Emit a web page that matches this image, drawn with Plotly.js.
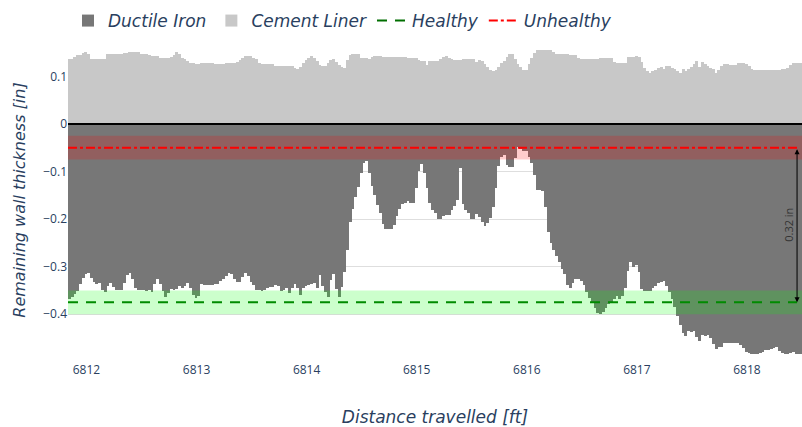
<!DOCTYPE html>
<html><head><meta charset="utf-8">
<script src="https://cdn.plot.ly/plotly-3.0.1.min.js"></script>
<style>html,body{margin:0;padding:0;background:#fff;}#chart{width:802px;height:427px;}</style>
</head><body><div id="chart"></div>
<script>
const startDistance = 6811.845;
const stepDistance = 0.025;

const ductileIron = [
-0.368,-0.364,-0.358,-0.352,-0.336,-0.324,-0.315,-0.314,-0.324,-0.332,
-0.337,-0.334,-0.349,-0.353,-0.340,-0.334,-0.343,-0.349,-0.350,-0.350,
-0.334,-0.318,-0.313,-0.326,-0.345,-0.350,-0.350,-0.350,-0.352,-0.350,
-0.353,-0.336,-0.327,-0.337,-0.352,-0.364,-0.355,-0.347,-0.350,-0.348,
-0.341,-0.346,-0.340,-0.335,-0.346,-0.360,-0.367,-0.362,-0.336,-0.338,
-0.339,-0.339,-0.339,-0.337,-0.336,-0.330,-0.327,-0.319,-0.313,-0.315,
-0.325,-0.332,-0.332,-0.321,-0.314,-0.320,-0.333,-0.339,-0.349,-0.350,
-0.352,-0.350,-0.346,-0.343,-0.342,-0.338,-0.341,-0.351,-0.350,-0.346,
-0.356,-0.344,-0.336,-0.345,-0.360,-0.344,-0.340,-0.339,-0.336,-0.334,
-0.345,-0.318,-0.341,-0.353,-0.364,-0.328,-0.316,-0.348,-0.364,-0.342,
-0.311,-0.265,-0.206,-0.178,-0.153,-0.133,-0.104,-0.083,-0.079,-0.104,
-0.131,-0.150,-0.171,-0.188,-0.211,-0.221,-0.221,-0.221,-0.213,-0.194,
-0.178,-0.168,-0.166,-0.163,-0.166,-0.166,-0.135,-0.098,-0.085,-0.104,
-0.135,-0.167,-0.181,-0.188,-0.199,-0.199,-0.194,-0.192,-0.192,-0.182,
-0.173,-0.160,-0.092,-0.168,-0.181,-0.188,-0.199,-0.199,-0.189,-0.196,
-0.206,-0.214,-0.209,-0.197,-0.174,-0.135,-0.088,-0.069,-0.065,-0.086,
-0.090,-0.090,-0.072,-0.048,-0.053,-0.056,-0.058,-0.069,-0.083,-0.107,
-0.140,-0.140,-0.141,-0.174,-0.227,-0.251,-0.265,-0.277,-0.290,-0.304,
-0.316,
-0.338,-0.345,-0.335,-0.327,-0.327,-0.330,-0.338,-0.353,-0.365,-0.374,
-0.386,-0.397,-0.400,-0.396,-0.388,-0.379,-0.374,-0.368,-0.361,-0.369,
-0.362,-0.344,-0.309,-0.290,-0.300,-0.297,-0.311,-0.347,-0.351,-0.351,
-0.352,-0.344,-0.340,-0.335,-0.332,-0.330,-0.341,-0.354,-0.368,-0.385,
-0.404,-0.423,-0.440,-0.446,-0.436,-0.437,-0.436,-0.449,-0.457,-0.444,
-0.446,-0.443,-0.451,-0.462,-0.473,-0.470,-0.469,-0.461,-0.460,-0.460,
-0.460,-0.460,-0.461,-0.464,-0.472,-0.479,-0.482,-0.483,-0.484,-0.483,
-0.481,-0.479,-0.476,-0.475,-0.474,-0.472,-0.469,-0.478,-0.482,-0.483,
-0.483,-0.482,-0.479,-0.483,-0.484,-0.484
];

const cementLiner = [
0.136,0.136,0.140,0.145,0.145,0.148,0.152,0.146,0.137,0.136,
0.136,0.136,0.136,0.136,0.147,0.147,0.147,0.147,0.147,0.147,
0.148,0.150,0.151,0.152,0.152,0.151,0.147,0.147,0.146,0.145,
0.143,0.143,0.143,0.139,0.138,0.138,0.138,0.141,0.145,0.152,
0.147,0.139,0.136,0.133,0.129,0.127,0.126,0.126,0.129,0.129,
0.129,0.129,0.129,0.126,0.126,0.126,0.126,0.127,0.129,0.129,
0.129,0.131,0.135,0.139,0.142,0.142,0.142,0.139,0.136,0.128,
0.126,0.126,0.126,0.126,0.125,0.122,0.122,0.122,0.122,0.122,
0.122,0.121,0.117,0.116,0.119,0.128,0.134,0.139,0.143,0.139,
0.133,0.124,0.121,0.121,0.127,0.134,0.136,0.131,0.124,0.119,
0.117,0.135,0.145,0.147,0.147,0.146,
0.138,0.138,0.138,0.136,0.140,0.142,0.142,0.142,0.141,0.140,
0.140,0.140,0.140,0.140,0.140,0.140,0.140,0.139,0.139,0.139,
0.138,0.135,0.133,0.132,0.124,0.133,0.133,0.133,0.133,0.137,
0.140,0.143,0.139,0.136,0.135,0.135,0.135,0.136,0.136,0.136,
0.136,0.137,0.131,0.135,0.133,0.126,0.119,0.114,0.112,0.113,
0.119,0.127,0.133,0.141,0.147,0.146,0.136,0.126,0.119,0.113,
0.114,0.126,0.138,0.150,0.155,0.156,0.156,0.156,0.155,0.156,
0.152,0.147,0.147,0.147,0.147,0.146,0.145,0.145,0.145,0.138,
0.136,0.136,0.136,0.136,0.136,0.136,0.136,
0.138,0.138,0.139,0.138,0.138,0.131,0.129,0.129,0.129,0.129,
0.140,0.141,0.140,0.142,0.141,0.131,0.118,0.112,0.107,0.111,
0.114,0.118,0.119,0.115,0.121,0.121,0.118,0.116,0.112,0.107,
0.115,0.111,0.115,0.120,0.125,0.133,0.119,0.130,0.125,0.122,
0.117,0.115,0.107,0.114,0.121,0.126,0.125,0.124,0.124,0.124,
0.128,0.129,0.129,0.125,0.121,0.116,0.114,0.114,0.114,0.114,
0.114,0.114,0.114,0.114,0.114,0.114,0.115,0.115,0.117,0.124,
0.128,0.128,0.128,0.128
];

const healthyLevel = -0.375;
const unhealthyLevel = -0.05;
const bandHalfWidth = 0.025;
const xTickValues = [6812, 6813, 6814, 6815, 6816, 6817, 6818];
const measureDistance = 6818.455;
const measureLabel = '0.32 in';

const distance = ductileIron.map((_, i) => +(startDistance + i * stepDistance).toFixed(4));
const xStart = distance[0] - stepDistance / 2;
const xEnd = 6818.5;

const textFont = '"DejaVu Sans", "Noto Sans", sans-serif';
const inkColor = '#2a3f5f';

const traces = [
  { type: 'bar', name: 'Ductile Iron', x: distance, y: ductileIron, width: stepDistance * 1.04,
    marker: { color: 'rgb(119,119,119)', line: { width: 0 } }, hoverinfo: 'x+y' },
  { type: 'bar', name: 'Cement Liner', x: distance, y: cementLiner, width: stepDistance * 1.04,
    marker: { color: 'rgb(200,200,200)', line: { width: 0 } }, hoverinfo: 'x+y' },
  { type: 'scatter', mode: 'lines', name: 'Healthy', x: [xStart, measureDistance], y: [healthyLevel, healthyLevel],
    line: { color: 'rgb(0,110,0)', width: 2, dash: '10px,8px' } },
  { type: 'scatter', mode: 'lines', name: 'Unhealthy', x: [xStart, measureDistance], y: [unhealthyLevel, unhealthyLevel],
    line: { color: 'red', width: 2, dash: 'dashdot' } }
];

const layout = {
  width: 802, height: 427,
  margin: { l: 68, r: 0, t: 43, b: 70 },
  paper_bgcolor: 'white', plot_bgcolor: 'white',
  barmode: 'overlay', bargap: 0,
  font: { family: '"Open Sans", sans-serif', color: inkColor, size: 12 },
  showlegend: true,
  legend: { orientation: 'h', x: 0, xanchor: 'left', y: 1.07, yanchor: 'middle',
    font: { family: textFont, size: 17, style: 'italic', color: inkColor }, bgcolor: 'rgba(0,0,0,0)' },
  xaxis: { range: [xStart, xEnd], tickvals: xTickValues, ticktext: xTickValues.map(String),
    showgrid: false, zeroline: false, showline: false, ticks: '', ticklabelstandoff: 4,
    tickfont: { size: 12, color: inkColor },
    title: { text: 'Distance travelled [ft]', font: { family: textFont, size: 17, style: 'italic', color: inkColor }, standoff: 46 } },
  yaxis: { range: [-0.49, 0.17], dtick: 0.1, tick0: 0, showgrid: true, gridcolor: '#dedede', gridwidth: 1,
    zeroline: false, showline: false, ticks: '', tickfont: { size: 12, color: inkColor },
    title: { text: 'Remaining wall thickness [in]', font: { family: textFont, size: 16, style: 'italic', color: inkColor }, standoff: 13 } },
  shapes: [
    { type: 'rect', xref: 'paper', x0: 0, x1: 1, yref: 'y', y0: unhealthyLevel - bandHalfWidth, y1: unhealthyLevel + bandHalfWidth,
      fillcolor: 'rgba(255,0,0,0.2)', line: { width: 0 }, layer: 'above' },
    { type: 'rect', xref: 'paper', x0: 0, x1: 1, yref: 'y', y0: healthyLevel - bandHalfWidth, y1: healthyLevel + bandHalfWidth,
      fillcolor: 'rgba(0,255,0,0.2)', line: { width: 0 }, layer: 'above' },
    { type: 'line', xref: 'paper', x0: 0, x1: 1, yref: 'y', y0: 0, y1: 0, line: { color: 'black', width: 2 }, layer: 'above' }
  ],
  annotations: [
    { x: measureDistance, y: healthyLevel, ax: measureDistance, ay: unhealthyLevel, xref: 'x', yref: 'y', axref: 'x', ayref: 'y',
      showarrow: true, arrowhead: 2, startarrowhead: 2, arrowside: 'end+start', arrowsize: 1, arrowwidth: 1, arrowcolor: 'black', text: '' },
    { x: measureDistance - 0.075, y: (healthyLevel + unhealthyLevel) / 2, xref: 'x', yref: 'y', text: measureLabel,
      textangle: -90, showarrow: false, font: { family: '"Open Sans", sans-serif', size: 11, color: '#333' } }
  ]
};

Plotly.newPlot('chart', traces, layout, { displayModeBar: false, staticPlot: true });
</script>
</body></html>
